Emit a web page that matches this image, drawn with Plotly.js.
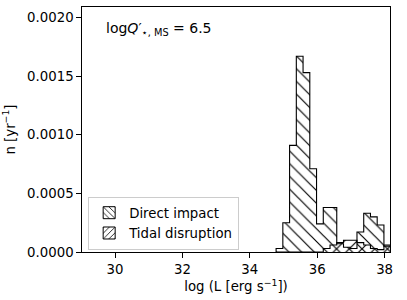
<!DOCTYPE html>
<html>
<head>
<meta charset="utf-8">
<script src="https://cdn.plot.ly/plotly-3.0.1.min.js"></script>
<style>html,body{margin:0;padding:0;background:#fff;}#chart{width:407px;height:300px;}</style>
</head>
<body>
<div id="chart"></div>
<script>
// bin layout (log L)
const binStart = 34.78;
const binWidth = 0.2;
// Direct impact histogram values (yr^-1)
const directImpact = [0.00003, 0.00025, 0.00091, 0.00167, 0.00153, 0.00071, 0.00024, 0.00038, 0.00038,
                      0.00007, 0.00004, 0.00003, 0.00017, 0.00033, 0.00030, 0.00023, 0.00005];
// Tidal disruption histogram values (yr^-1)
const tidalDisruption = [0, 0, 0, 0, 0, 0, 0, 0.00003, 0.00006,
                         0.00008, 0.00010, 0.00010, 0.00008, 0.00006, 0.00003, 0.00002, 0.00006];
const seriesNames = ["Direct impact", "Tidal disruption"];
const xTicks = [30, 32, 34, 36, 38];
const yTicks = [0, 0.0005, 0.0010, 0.0015, 0.0020];

const nb = directImpact.length;
const centers = [], edges = [];
for (let i = 0; i <= nb; i++) edges.push(binStart + i * binWidth);
for (let i = 0; i < nb; i++) centers.push(binStart + (i + 0.5) * binWidth);

function stepOutline(vals) {
  const xs = [edges[0]], ys = [0];
  for (let i = 0; i < vals.length; i++) { xs.push(edges[i]); ys.push(vals[i]); }
  xs.push(edges[vals.length]); ys.push(0);
  return {xs, ys};
}

const font = {family: "DejaVu Sans", size: 13.3, color: "black"};
const clear = "rgba(0,0,0,0)";

function patt(shape) {
  return {shape: shape, size: 9, solidity: 0.13, fgcolor: "black", bgcolor: clear, fillmode: "replace"};
}
function barTrace(vals, name, shape) {
  return {
    type: "bar", x: centers, y: vals, width: binWidth, name: name, showlegend: false,
    marker: {color: clear, line: {width: 0}, pattern: patt(shape)},
    hoverinfo: "skip"
  };
}
// legend key proxy: a single empty (null) bar, so the key can carry an outline like the reference
function legendTrace(name, shape) {
  return {
    type: "bar", x: [centers[0]], y: [null], name: name, showlegend: true,
    marker: {color: clear, line: {width: 1, color: "black"}, pattern: {shape: shape, size: 5, solidity: 0.2, fgcolor: "black", bgcolor: clear, fillmode: "replace"}},
    hoverinfo: "skip"
  };
}
function lineTrace(vals) {
  const o = stepOutline(vals);
  return {type: "scatter", mode: "lines", x: o.xs, y: o.ys, line: {shape: "hv", color: "black", width: 1.1},
          showlegend: false, hoverinfo: "skip"};
}

const data = [
  barTrace(directImpact, seriesNames[0], "\\"),
  barTrace(tidalDisruption, seriesNames[1], "/"),
  lineTrace(directImpact),
  lineTrace(tidalDisruption),
  legendTrace(seriesNames[0], "\\"),
  legendTrace(seriesNames[1], "/")
];

const layout = {
  width: 407, height: 300,
  margin: {l: 82, r: 17, t: 6.5, b: 48},
  paper_bgcolor: "white", plot_bgcolor: "white",
  font: font,
  barmode: "overlay", bargap: 0,
  xaxis: {range: [29.02, 38.16], tickvals: xTicks, ticktext: xTicks.map(String),
          ticks: "outside", ticklen: 4.7, tickwidth: 1, tickcolor: "black",
          showline: true, linecolor: "black", linewidth: 1, mirror: true,
          showgrid: false, zeroline: false, tickfont: font,
          title: {text: "log (L [erg s<sup>−1</sup>])", font: font, standoff: 4}},
  yaxis: {range: [0, 0.00209], tickvals: yTicks, ticktext: yTicks.map(v => v.toFixed(4)),
          ticks: "outside", ticklen: 4.7, tickwidth: 1, tickcolor: "black",
          showline: true, linecolor: "black", linewidth: 1, mirror: true,
          showgrid: false, zeroline: false, tickfont: font,
          title: {text: "n [yr<sup>−1</sup>]", font: font, standoff: 8}},
  legend: {x: 0.02, y: 0.01, xanchor: "left", yanchor: "bottom",
           bgcolor: "rgba(255,255,255,0.8)", bordercolor: "#cccccc", borderwidth: 1,
           font: font, traceorder: "normal", itemwidth: 30},
  annotations: [{
    xref: "paper", yref: "paper", x: 0.07, y: 0.912, xanchor: "left", yanchor: "middle",
    text: "log<i>Q</i>′<sub>⋆, MS</sub> = 6.5", showarrow: false,
    font: {family: "DejaVu Sans", size: 14, color: "black"}
  }]
};

Plotly.newPlot("chart", data, layout, {displayModeBar: false, staticPlot: true});
</script>
</body>
</html>
